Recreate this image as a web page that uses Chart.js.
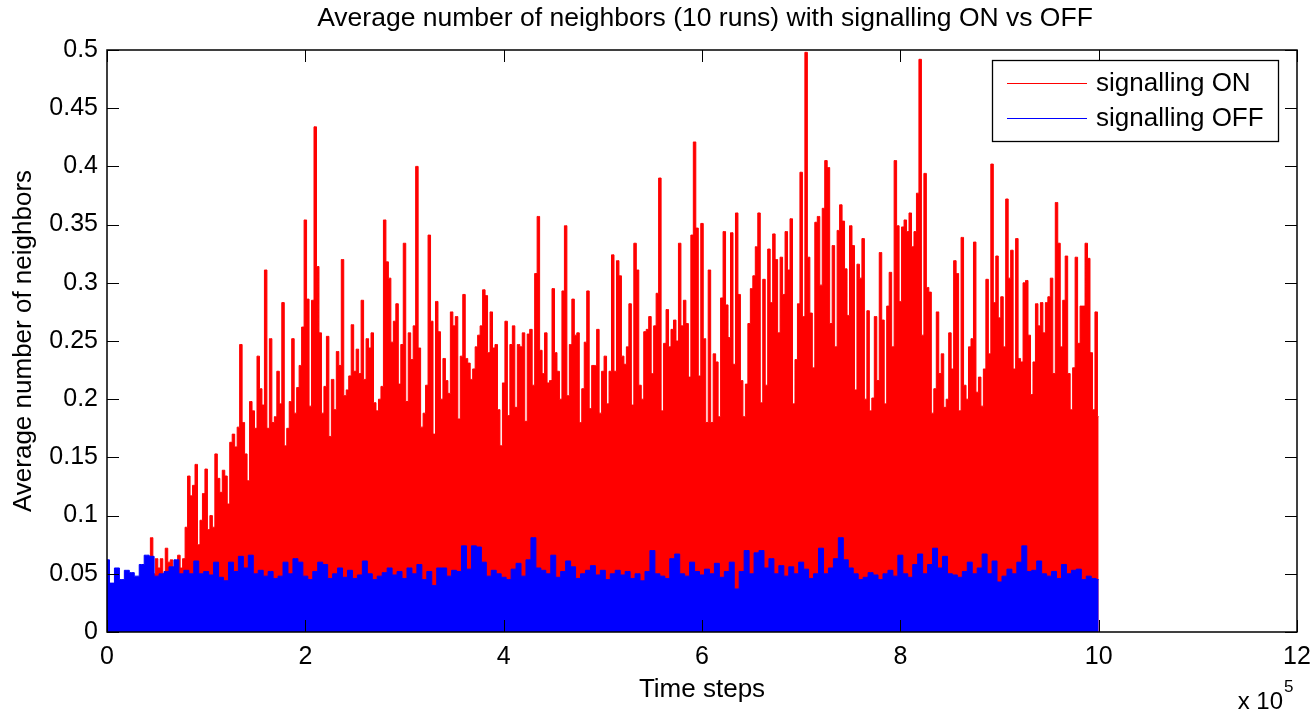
<!DOCTYPE html>
<html>
<head>
<meta charset="utf-8">
<title>Average number of neighbors</title>
<script src="https://cdn.jsdelivr.net/npm/chart.js@4.4.0/dist/chart.umd.min.js"></script>
<style>
    html, body { margin: 0; padding: 0; background: #fff; }
    #wrap { width: 1316px; height: 715px; }
</style>
</head>
<body>
<div id="wrap"><canvas id="neighbors" width="1316" height="715"></canvas></div>
<script>
// --- Data ---
const TITLE = 'Average number of neighbors (10 runs) with signalling ON vs OFF';
const X_LABEL = 'Time steps';
const Y_LABEL = 'Average number of neighbors';

const X_TICKS = [0, 200000, 400000, 600000, 800000, 1000000, 1200000];
const Y_TICKS = [0, 0.05, 0.1, 0.15, 0.2, 0.25, 0.3, 0.35, 0.4, 0.45, 0.5];

// signalling ON, one value every 2500 steps (0 .. 1e6)
const ON_STEP = 2500;
const signalOn = [
    0.035, 0.035, 0.035, 0.035, 0.035, 0.035, 0.035, 0.035, 0.035, 0.035,
    0.035, 0.035, 0.035, 0.035, 0.035, 0.035, 0.035, 0.035, 0.081, 0.05,
    0.063, 0.055, 0.063, 0.05, 0.072, 0.06, 0.062, 0.05, 0.058, 0.066,
    0.055, 0.063, 0.09, 0.134, 0.117, 0.126, 0.144, 0.075, 0.096, 0.119,
    0.14, 0.088, 0.1, 0.09, 0.153, 0.132, 0.12, 0.139, 0.134, 0.11,
    0.163, 0.17, 0.159, 0.176, 0.247, 0.18, 0.153, 0.13, 0.198, 0.19,
    0.175, 0.237, 0.209, 0.195, 0.311, 0.175, 0.252, 0.18, 0.185, 0.224,
    0.196, 0.283, 0.16, 0.175, 0.198, 0.252, 0.188, 0.21, 0.229, 0.262,
    0.354, 0.286, 0.194, 0.285, 0.434, 0.314, 0.257, 0.188, 0.211, 0.254,
    0.168, 0.217, 0.191, 0.241, 0.229, 0.32, 0.203, 0.208, 0.22, 0.264,
    0.224, 0.243, 0.222, 0.285, 0.217, 0.252, 0.244, 0.257, 0.197, 0.19,
    0.2, 0.211, 0.354, 0.318, 0.304, 0.249, 0.267, 0.282, 0.213, 0.247,
    0.334, 0.198, 0.257, 0.234, 0.263, 0.4, 0.244, 0.176, 0.188, 0.212,
    0.341, 0.267, 0.17, 0.284, 0.258, 0.2, 0.235, 0.216, 0.205, 0.275,
    0.263, 0.271, 0.183, 0.237, 0.29, 0.235, 0.231, 0.217, 0.226, 0.245,
    0.255, 0.263, 0.294, 0.289, 0.24, 0.275, 0.244, 0.247, 0.191, 0.16,
    0.214, 0.267, 0.186, 0.247, 0.263, 0.193, 0.247, 0.245, 0.257, 0.181,
    0.256, 0.26, 0.212, 0.308, 0.357, 0.242, 0.222, 0.257, 0.214, 0.216,
    0.295, 0.24, 0.224, 0.2, 0.293, 0.349, 0.203, 0.247, 0.286, 0.255,
    0.257, 0.18, 0.209, 0.249, 0.293, 0.192, 0.229, 0.229, 0.26, 0.188,
    0.224, 0.237, 0.196, 0.224, 0.324, 0.224, 0.319, 0.306, 0.237, 0.23,
    0.245, 0.282, 0.195, 0.334, 0.311, 0.212, 0.2, 0.258, 0.26, 0.271,
    0.222, 0.263, 0.291, 0.39, 0.19, 0.248, 0.277, 0.245, 0.26, 0.268,
    0.25, 0.334, 0.263, 0.285, 0.265, 0.219, 0.341, 0.421, 0.347, 0.22,
    0.351, 0.252, 0.18, 0.311, 0.18, 0.239, 0.232, 0.185, 0.287, 0.344,
    0.281, 0.253, 0.343, 0.23, 0.36, 0.29, 0.216, 0.185, 0.213, 0.265,
    0.295, 0.306, 0.331, 0.36, 0.197, 0.303, 0.212, 0.329, 0.283, 0.342,
    0.32, 0.257, 0.322, 0.29, 0.344, 0.311, 0.355, 0.196, 0.234, 0.282,
    0.395, 0.271, 0.498, 0.322, 0.274, 0.227, 0.352, 0.357, 0.298, 0.364,
    0.405, 0.399, 0.265, 0.332, 0.245, 0.345, 0.367, 0.353, 0.312, 0.272,
    0.349, 0.332, 0.208, 0.316, 0.304, 0.338, 0.2, 0.276, 0.19, 0.201,
    0.271, 0.216, 0.326, 0.268, 0.196, 0.28, 0.309, 0.245, 0.405, 0.349,
    0.284, 0.348, 0.354, 0.344, 0.36, 0.331, 0.344, 0.377, 0.492, 0.255,
    0.394, 0.296, 0.292, 0.188, 0.209, 0.275, 0.222, 0.239, 0.193, 0.2,
    0.257, 0.226, 0.319, 0.308, 0.19, 0.339, 0.212, 0.2, 0.245, 0.252,
    0.335, 0.206, 0.219, 0.194, 0.226, 0.303, 0.239, 0.402, 0.283, 0.323,
    0.27, 0.288, 0.245, 0.372, 0.304, 0.328, 0.226, 0.338, 0.235, 0.232,
    0.3, 0.302, 0.255, 0.204, 0.232, 0.282, 0.263, 0.283, 0.257, 0.283,
    0.288, 0.304, 0.222, 0.369, 0.334, 0.245, 0.285, 0.323, 0.222, 0.191,
    0.227, 0.322, 0.248, 0.28, 0.28, 0.334, 0.321, 0.24, 0.191, 0.275,
    0.185
];

// signalling OFF, one value every 5000 steps (0 .. 1e6)
const OFF_STEP = 5000;
const signalOff = [
    0.062, 0.042, 0.055, 0.045, 0.053, 0.051, 0.048, 0.058, 0.066, 0.065,
    0.048, 0.05, 0.052, 0.056, 0.062, 0.05, 0.053, 0.05, 0.061, 0.05,
    0.052, 0.049, 0.06, 0.047, 0.044, 0.06, 0.052, 0.065, 0.055, 0.066,
    0.05, 0.053, 0.048, 0.052, 0.046, 0.048, 0.06, 0.05, 0.063, 0.06,
    0.048, 0.045, 0.052, 0.06, 0.058, 0.046, 0.05, 0.055, 0.047, 0.053,
    0.046, 0.049, 0.061, 0.05, 0.045, 0.048, 0.051, 0.055, 0.049, 0.052,
    0.046, 0.055, 0.05, 0.058, 0.045, 0.052, 0.04, 0.055, 0.055, 0.048,
    0.053, 0.052, 0.074, 0.054, 0.074, 0.073, 0.06, 0.048, 0.053, 0.05,
    0.047, 0.045, 0.054, 0.059, 0.048, 0.062, 0.081, 0.055, 0.053, 0.05,
    0.066, 0.047, 0.052, 0.061, 0.056, 0.046, 0.05, 0.053, 0.057, 0.049,
    0.053, 0.045, 0.05, 0.053, 0.049, 0.052, 0.046, 0.05, 0.044, 0.052,
    0.07, 0.05, 0.048, 0.046, 0.063, 0.067, 0.05, 0.048, 0.06, 0.052,
    0.049, 0.054, 0.05, 0.059, 0.047, 0.052, 0.06, 0.037, 0.052, 0.07,
    0.05, 0.068, 0.07, 0.055, 0.063, 0.05, 0.057, 0.048, 0.056, 0.05,
    0.06, 0.054, 0.046, 0.05, 0.072, 0.05, 0.055, 0.063, 0.081, 0.062,
    0.055, 0.05, 0.045, 0.047, 0.051, 0.049, 0.045, 0.05, 0.053, 0.048,
    0.066, 0.05, 0.047, 0.058, 0.067, 0.05, 0.058, 0.072, 0.055, 0.065,
    0.05, 0.049, 0.047, 0.052, 0.06, 0.05, 0.055, 0.067, 0.05, 0.061,
    0.043, 0.048, 0.054, 0.05, 0.06, 0.074, 0.052, 0.053, 0.061, 0.05,
    0.048, 0.052, 0.046, 0.058, 0.05, 0.053, 0.054, 0.045, 0.048, 0.046,
    0.045
];

const FAMILY = '"Liberation Sans", Arial, Helvetica, sans-serif';
const TICK_FONT = { family: FAMILY, size: 25 };
const LABEL_FONT = { family: FAMILY, size: 26 };

function toPoints(values, step) {
    return values.map((v, i) => ({ x: i * step, y: v }));
}

// --- MATLAB-ish frame: box, inward ticks, title, legend, exponent ---
const matlabFrame = {
    id: 'matlabFrame',
    afterDatasetsDraw(chart) {
        const { ctx, chartArea: a, scales } = chart;
        const tick = 12;
        ctx.save();
        ctx.strokeStyle = '#000';
        ctx.lineWidth = 1;
        ctx.beginPath();
        scales.x.ticks.forEach(t => {
            const px = Math.round(scales.x.getPixelForValue(t.value)) + 0.5;
            ctx.moveTo(px, a.bottom); ctx.lineTo(px, a.bottom - tick);
            ctx.moveTo(px, a.top); ctx.lineTo(px, a.top + tick);
        });
        scales.y.ticks.forEach(t => {
            const py = Math.round(scales.y.getPixelForValue(t.value)) + 0.5;
            ctx.moveTo(a.left, py); ctx.lineTo(a.left + tick, py);
            ctx.moveTo(a.right, py); ctx.lineTo(a.right - tick, py);
        });
        ctx.stroke();
        ctx.lineWidth = 1.5;
        ctx.strokeRect(a.left, a.top, a.right - a.left, a.bottom - a.top);
        ctx.restore();
    },
    afterDraw(chart) {
        const { ctx, chartArea: a } = chart;
        ctx.save();
        ctx.fillStyle = '#000';
        ctx.font = '26.5px ' + FAMILY;

        // title
        ctx.textAlign = 'center';
        ctx.textBaseline = 'middle';
        ctx.fillText(TITLE, (a.left + a.right) / 2 + 3, 19);

        // x 10^5 under the right end of the axis
        ctx.font = '24px ' + FAMILY;
        ctx.textAlign = 'right';
        ctx.textBaseline = 'alphabetic';
        ctx.fillText('x 10', a.right - 14, 709);
        ctx.textAlign = 'left';
        ctx.font = '17px ' + FAMILY;
        ctx.fillText('5', a.right - 13, 692);

        // legend
        const box = { x: 992.5, y: 60.5, w: 286, h: 81 };
        ctx.fillStyle = '#fff';
        ctx.fillRect(box.x, box.y, box.w, box.h);
        ctx.strokeStyle = '#000';
        ctx.lineWidth = 1.3;
        ctx.strokeRect(box.x, box.y, box.w, box.h);
        ctx.font = '26px ' + FAMILY;
        ctx.textBaseline = 'middle';
        chart.data.datasets.forEach((ds, i) => {
            const y = 83 + i * 35;
            ctx.strokeStyle = ds.borderColor;
            ctx.lineWidth = 1;
            ctx.beginPath();
            ctx.moveTo(1007, y + 0.5);
            ctx.lineTo(1087, y + 0.5);
            ctx.stroke();
            ctx.fillStyle = '#000';
            ctx.fillText(ds.label, 1096, y + 1);
        });
        ctx.restore();
    }
};

// --- Chart ---
const ctx = document.getElementById('neighbors').getContext('2d');
const neighborsChart = new Chart(ctx, {
    type: 'line',
    data: {
        datasets: [
            {
                label: 'signalling ON',
                data: toPoints(signalOn, ON_STEP),
                borderColor: '#ff0000',
                backgroundColor: '#ff0000',
                borderWidth: 1,
                pointRadius: 0,
                stepped: 'middle',
                fill: 'origin',
                order: 2
            },
            {
                label: 'signalling OFF',
                data: toPoints(signalOff, OFF_STEP),
                borderColor: '#0000ff',
                backgroundColor: '#0000ff',
                borderWidth: 1,
                pointRadius: 0,
                stepped: 'middle',
                fill: 'origin',
                order: 1
            }
        ]
    },
    options: {
        responsive: false,
        animation: false,
        events: [],
        layout: { padding: { top: 50, right: 19, bottom: 0, left: 0 } },
        plugins: {
            legend: { display: false },
            title: { display: false },
            tooltip: { enabled: false }
        },
        scales: {
            x: {
                type: 'linear',
                min: 0,
                max: 1200000,
                afterBuildTicks: s => { s.ticks = X_TICKS.map(v => ({ value: v })); },
                // fixed axis height; labels may overhang into the page padding
                afterFit: s => { s.height = 83; s.paddingLeft = 0; s.paddingRight = 0; },
                ticks: {
                    callback: v => String(v / 100000),
                    color: '#000',
                    font: TICK_FONT,
                    padding: 10,
                    maxRotation: 0,
                    autoSkip: false
                },
                grid: { display: false, drawTicks: false },
                border: { display: false },
                title: {
                    display: true,
                    text: X_LABEL,
                    color: '#000',
                    font: LABEL_FONT,
                    padding: { top: 4, bottom: 10 }
                }
            },
            y: {
                type: 'linear',
                min: 0,
                max: 0.5,
                afterBuildTicks: s => { s.ticks = Y_TICKS.map(v => ({ value: v })); },
                afterFit: s => { s.width = 107; s.paddingTop = 0; s.paddingBottom = 0; },
                ticks: {
                    callback: v => String(+v.toFixed(2)),
                    color: '#000',
                    font: TICK_FONT,
                    padding: 9
                },
                grid: { display: false, drawTicks: false },
                border: { display: false },
                title: {
                    display: true,
                    text: Y_LABEL,
                    color: '#000',
                    font: LABEL_FONT,
                    padding: { top: 8, bottom: 0 }
                }
            }
        }
    },
    plugins: [matlabFrame]
});
</script>
</body>
</html>
